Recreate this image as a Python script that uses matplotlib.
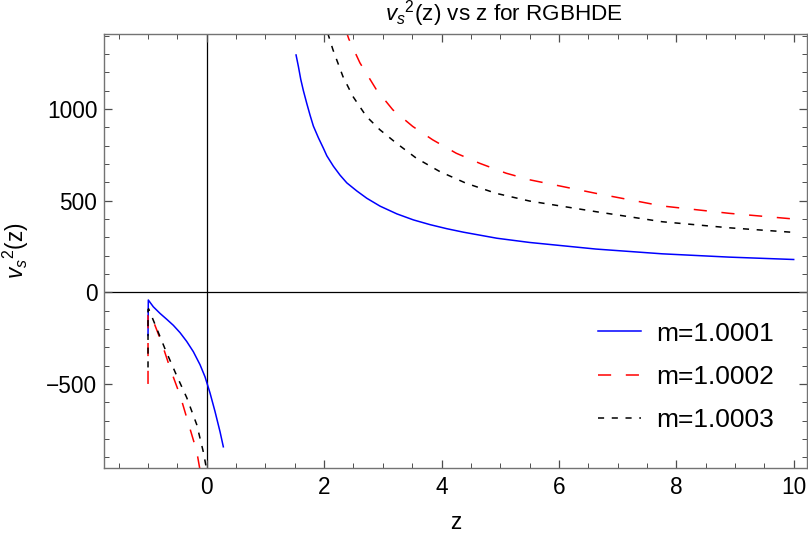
import matplotlib.pyplot as plt
from matplotlib.ticker import MultipleLocator

plt.rcParams['font.family'] = ['Liberation Sans', 'DejaVu Sans']
plt.rcParams['mathtext.fontset'] = 'custom'
plt.rcParams['mathtext.rm'] = 'Liberation Sans'
plt.rcParams['mathtext.it'] = 'Liberation Sans:italic'

labels = ['m=1.0001', 'm=1.0002', 'm=1.0003']

# branch for z < ~0.3 (spike at z = -1, then falling)
z_left_1 = [-1.0, -0.995, -0.91, -0.796, -0.682, -0.569, -0.455, -0.341, -0.228, -0.114,
            -0.029, 0.056, 0.141, 0.227, 0.283]
v_left_1 = [-235, -42, -79, -115, -147, -180, -220, -268, -324, -395,
            -461, -549, -650, -761, -843]
z_left_2 = [-1.0, -1.0, -0.96, -0.77, -0.62, -0.45, -0.34, -0.17, -0.11]
v_left_2 = [-500, -125, -115, -273, -418, -566, -685, -868, -978]
z_left_3 = [-1.0, -1.0, -0.99, -0.85, -0.71, -0.51, -0.34, -0.17, -0.06, 0.0]
v_left_3 = [-410, -95, -90, -199, -309, -456, -575, -722, -868, -969]

# branch for large z
z_right_1 = [1.522, 1.562, 1.602, 1.647, 1.705, 1.761, 1.817, 1.903, 1.988, 2.046, 2.158,
             2.272, 2.387, 2.557, 2.728, 2.954, 3.239, 3.522, 3.807, 4.091, 4.374, 4.944,
             5.5, 6.63, 7.76, 8.9, 10.0]
v_right_1 = [1295, 1232, 1162, 1100, 1030, 966, 907, 843, 786, 745, 688,
             639, 597, 553, 513, 470, 428, 395, 369, 347, 328, 295,
             272, 236, 210, 192, 179]
z_right_2 = [2.36, 2.42, 2.61, 2.89, 3.17, 3.51, 3.85, 4.25, 4.65, 5.1, 5.5, 6.63, 7.76, 8.9, 10.0]
v_right_2 = [1440, 1383, 1252, 1106, 996, 905, 832, 759, 704, 650, 614, 540, 471, 431, 400]
z_right_3 = [2.06, 2.15, 2.32, 2.49, 2.72, 2.95, 3.23, 3.57, 3.97, 4.42, 4.93, 5.5, 6.63, 7.76, 8.9, 10.0]
v_right_3 = [1416, 1324, 1178, 1069, 960, 887, 814, 732, 659, 595, 540, 498, 440, 385, 352, 327]

fig = plt.figure(figsize=(8.08, 5.38), dpi=100)
ax = fig.add_axes([0.129, 0.130, 0.870, 0.807])

ax.axhline(0, color='black', lw=0.9, zorder=1)
ax.axvline(0, color='black', lw=0.9, zorder=1)

styles = [
    dict(color='blue', lw=1.1),
    dict(color='red', lw=1.1, dashes=(8.6, 9.6)),
    dict(color='black', lw=1.1, dashes=(4.0, 5.0)),
]
lefts = [(z_left_1, v_left_1), (z_left_2, v_left_2), (z_left_3, v_left_3)]
rights = [(z_right_1, v_right_1), (z_right_2, v_right_2), (z_right_3, v_right_3)]

for (zl, vl), (zr, vr), st, lab in zip(lefts, rights, styles, labels):
    ax.plot(zl, vl, label=lab, **st)
    ax.plot(zr, vr, **st)

ax.set_xlim(-1.746, 10.23)
ax.set_ylim(-959, 1410)

ax.xaxis.set_major_locator(MultipleLocator(2))
ax.xaxis.set_minor_locator(MultipleLocator(0.5))
ax.yaxis.set_major_locator(MultipleLocator(500))
ax.yaxis.set_minor_locator(MultipleLocator(100))
ax.yaxis.set_major_formatter(plt.FuncFormatter(lambda v, p: f'{v:.0f}'.replace('-', '\u2212')))

for sp in ax.spines.values():
    sp.set_color('0.45')
    sp.set_linewidth(1.0)
ax.tick_params(which='both', direction='in', top=True, right=True, color='0.3', labelsize=16.3)
ax.tick_params(which='major', length=6, width=0.9, pad=5)
ax.tick_params(which='minor', length=3.5, width=0.7)
ax.tick_params(axis='x', which='major', pad=6)

ax.set_xlabel('z', fontsize=16.3, labelpad=8)
ax.set_ylabel(r'$v_s{}^2$(z)', fontsize=16.3, labelpad=11)
fig.text(0.6237, 0.974, r'$v_s{}^2$(z) vs z for RGBHDE', fontsize=16.2, ha='center', va='center')

ax.legend(loc='upper left', bbox_to_anchor=(0.7026, 0.3375), frameon=False, fontsize=19,
          borderpad=0, borderaxespad=0, handlelength=1.64, handletextpad=0.56, labelspacing=0.73)

fig.savefig('out.png', dpi=100)
